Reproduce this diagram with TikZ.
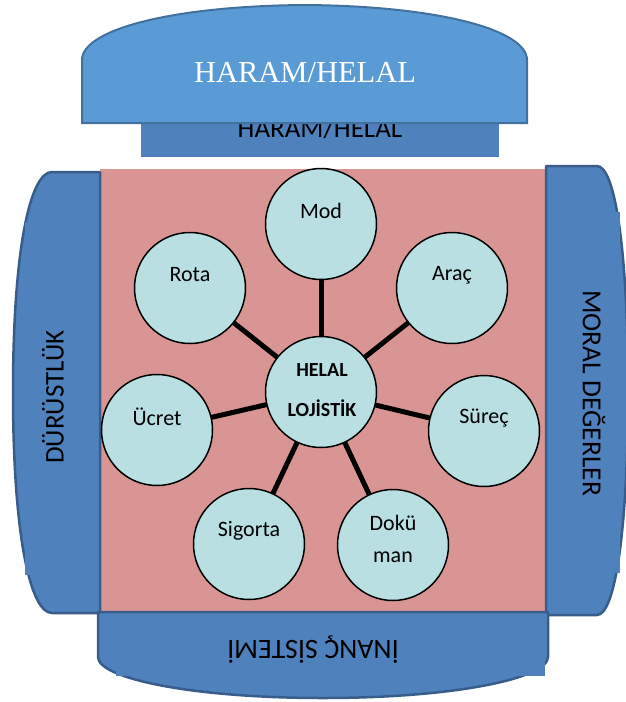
\documentclass[tikz,border=0pt]{standalone}
\usepackage{fontspec}
\setmainfont{Carlito}
\newfontfamily\bannerfont{Liberation Serif}
\definecolor{barblue}{HTML}{4F81BD}
\definecolor{barline}{HTML}{385D8A}
\definecolor{bannerblue}{HTML}{5B9BD5}
\definecolor{bannerline}{HTML}{41719C}
\definecolor{rosebg}{HTML}{D99594}
\definecolor{bubblefill}{HTML}{B9DFE3}
\begin{document}
\begin{tikzpicture}[x=1pt,y=-1pt,
    bar/.style={fill=barblue,draw=barline,line width=2.5pt,line join=round},
    bubble/.style={circle,fill=bubblefill,draw=black,line width=1.5pt,minimum size=111pt,inner sep=0pt,outer sep=0pt},
    txt/.style={font=\fontsize{22}{26}\selectfont},
    spoke/.style={line width=5pt}]
\useasboundingbox (0,0) rectangle (626,702);
% top band and banner
\fill[barblue] (141,105) rectangle (499,157);
\node[font=\fontsize{27}{30}\selectfont,anchor=base] (haramlow) at (320,137) {HARAM/HELAL};
\draw[fill=bannerblue,draw=bannerline,line width=2pt] (82,123) -- (82,60) .. controls (82,30) and (170,6) .. (305,5) .. controls (439,6) and (527,30) .. (527,60) -- (527,123) -- cycle;
\node[font=\bannerfont\fontsize{30.5}{34}\selectfont,text=white,anchor=base] (haram) at (305,82) {HARAM/HELAL};
% centre square
\fill[rosebg] (100,169) rectangle (546,612);
% side bars
\draw[bar] (100,172) -- (52,172) .. controls (30,172) and (13,250) .. (13,392) .. controls (13,534) and (30,613) .. (52,613) -- (100,613) -- cycle;
\draw[bar] (546,166) -- (597,166) .. controls (615,166) and (628,250) .. (628,390) .. controls (628,530) and (615,615) .. (597,615) -- (546,615) -- cycle;
\draw[bar] (98,612) -- (98,657) .. controls (98,678) and (190,698) .. (323,698) .. controls (456,698) and (548,678) .. (548,657) -- (548,612) -- cycle;
\fill[barblue] (25,222) rectangle (98,575);
\fill[barblue] (548,212) rectangle (620,573);
\fill[barblue] (116,614) rectangle (545,676);
\node[rotate=90,font=\fontsize{27}{30}\selectfont] (durust) at (53,397) {DÜRÜSTLÜK};
\node[rotate=-90,font=\fontsize{27.5}{30}\selectfont] (moral) at (594,393) {MORAL DEĞERLER};
\node[rotate=180,font=\fontsize{28}{30}\selectfont] (inanc) at (313,650) {İNANÇ SİSTEMİ};
% bubbles
\node[bubble] (hub) at (321,392) {};
\node[font=\bfseries\fontsize{20}{40}\selectfont,align=center] (hubtext) at (322,390) {HELAL\\LOJİSTİK};
\foreach \n/\x/\y/\t in {mod/321/224/Mod,rota/190/288/Rota,arac/452/288/Araç,ucret/157/430/Ücret,surec/484/431/Süreç,sigorta/249/544/Sigorta}
{
  \node[bubble] (\n) at (\x,\y) {};
  \node[txt] (\n text) at (\x,\y-13) {\t};
}
\node[bubble] (dokuman) at (393,545) {};
\node[txt,font=\fontsize{22}{32}\selectfont,align=center] (dokumantext) at (393,539) {Dokü\\man};
\foreach \n in {mod,rota,arac,ucret,surec,sigorta,dokuman} \draw[spoke] (hub) -- (\n);
\end{tikzpicture}
\end{document}
